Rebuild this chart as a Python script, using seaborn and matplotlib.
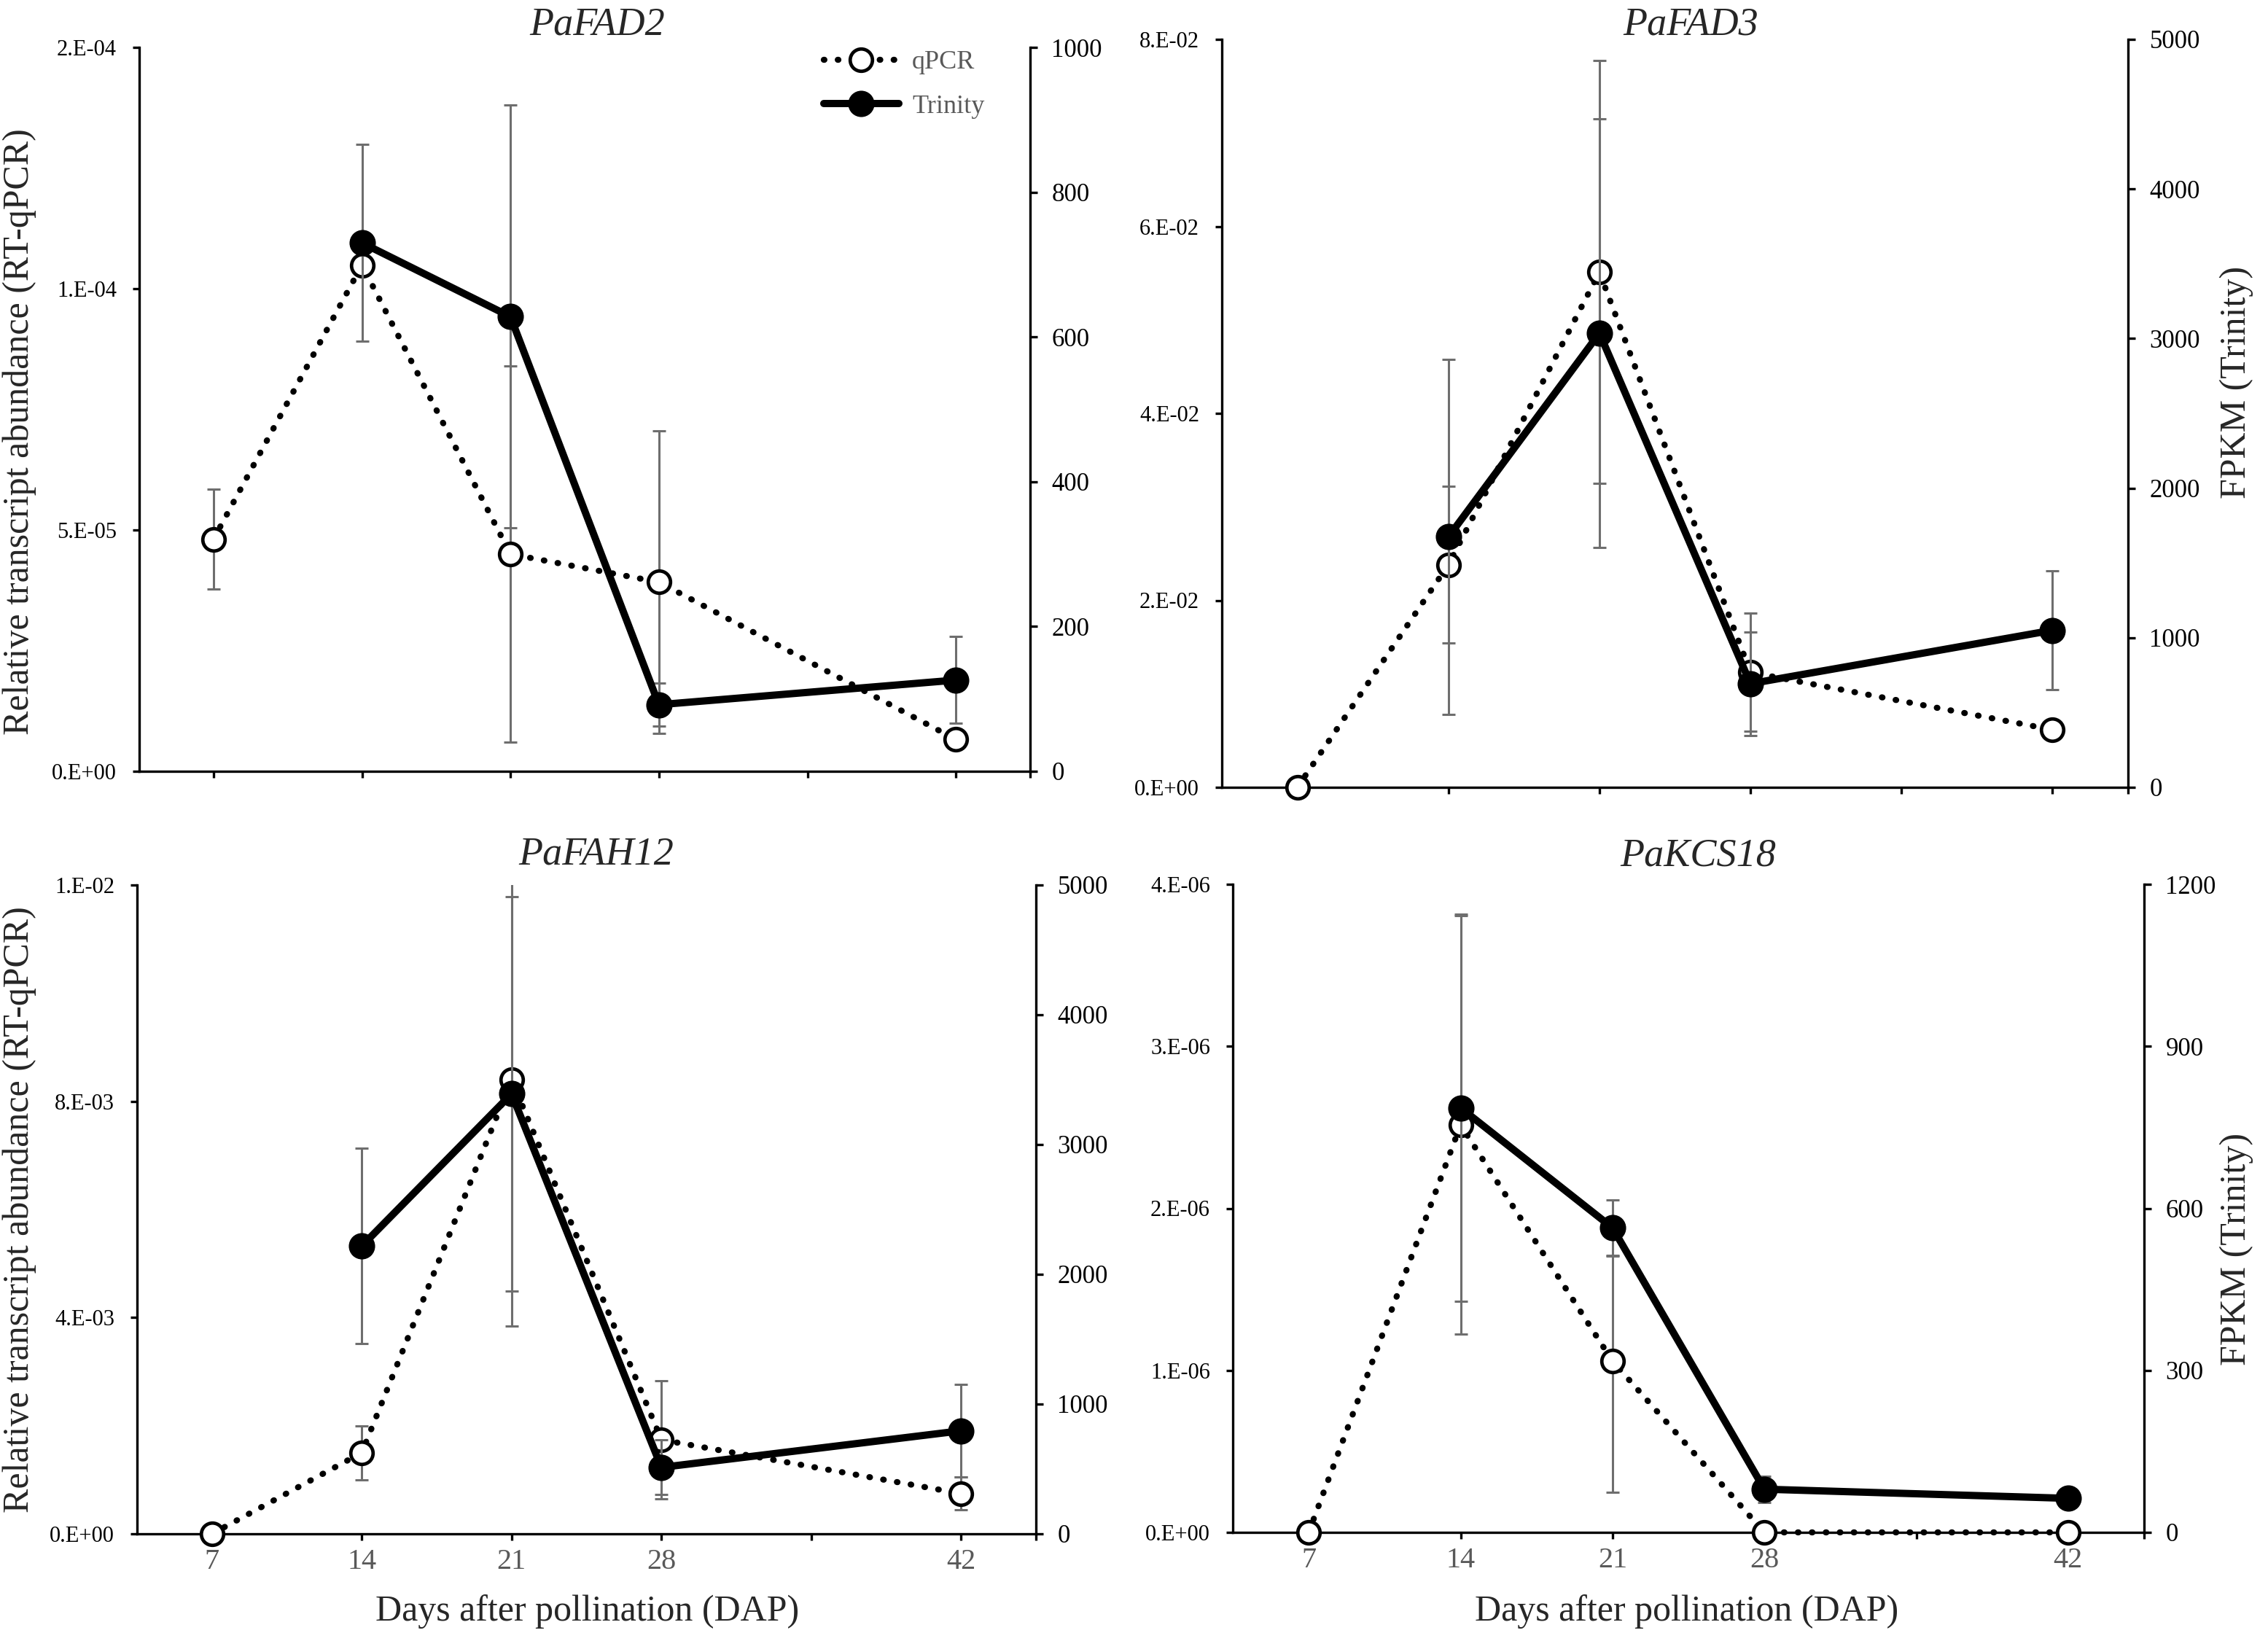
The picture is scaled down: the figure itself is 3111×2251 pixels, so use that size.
import numpy as np
import matplotlib
matplotlib.use('Agg')
from matplotlib import pyplot as plt
from matplotlib.ticker import FuncFormatter
from matplotlib.lines import Line2D
import seaborn as sns

# days after pollination
qpcr_days = [7, 14, 21, 28, 42]
trinity_days = [14, 21, 28, 42]
xtick_pos = [7, 14, 21, 28, 35, 42, 45.5]
xtick_lab = ['7', '14', '21', '28', '', '42', '']

genes = ['PaFAD2', 'PaFAD3', 'PaFAH12', 'PaKCS18']

# RT-qPCR relative abundance (mean, lower err, upper err)
fad2_qpcr = [4.81e-5, 1.049e-4, 4.50e-5, 3.92e-5, 6.6e-6]
fad2_qpcr_lo = [1.03e-5, 0, 3.90e-5, 3.14e-5, 1.95e-6]
fad2_qpcr_hi = [1.03e-5, 0, 3.90e-5, 3.14e-5, 1.95e-6]
fad3_qpcr = [0, 0.0238, 0.0551, 0.0123, 0.00616]
fad3_qpcr_lo = [0, 0.0084, 0.0226, 0.0063, 0]
fad3_qpcr_hi = [0, 0.0084, 0.0226, 0.0063, 0]
fah12_qpcr = [0, 0.0015, 0.0084, 0.00174, 0.000745]
fah12_qpcr_lo = [0, 0.0005, 0.00456, 0.00109, 0.0003]
fah12_qpcr_hi = [0, 0.0005, 0.00456, 0.00109, 0.0003]
kcs18_qpcr = [0, 2.515e-6, 1.057e-6, 0, 0]
kcs18_qpcr_lo = [0, 1.29e-6, 0.81e-6, 0, 0]
kcs18_qpcr_hi = [0, 1.29e-6, 0.65e-6, 0, 0]

# FPKM (Trinity)
fad2_fpkm = [730, 628, 92, 126]
fad2_fpkm_err = [136, 292, 30, 60]
fad3_fpkm = [1674, 3036, 693, 1050]
fad3_fpkm_err = [1187, 1435, 347, 396]
fah12_fpkm = [2218, 3391, 512, 794]
fah12_fpkm_err = [754, 1520, 210, 355]
kcs18_fpkm = [786, 564, 80, 63]
kcs18_fpkm_err = [358, 51, 24, 0]

# axis ticks
fad2_left = [0, 5e-5, 1e-4, 1.5e-4]
fad2_right = [0, 200, 400, 600, 800, 1000]
fad3_left = [0, 0.02, 0.04, 0.06, 0.08]
fad3_right = [0, 1000, 2000, 3000, 4000, 5000]
fah12_left = [0, 0.004, 0.008, 0.012]
fah12_right = [0, 1000, 2000, 3000, 4000, 5000]
kcs18_left = [0, 1e-6, 2e-6, 3e-6, 4e-6]
kcs18_right = [0, 300, 600, 900, 1200]

sns.set_style('ticks')
plt.rcParams['font.family'] = ['Liberation Serif', 'DejaVu Serif']
plt.rcParams['axes.linewidth'] = 1.2

ERR_COLOR = '#6e6e6e'
GRAY_TXT = '#595959'
qpcr_style = dict(color='black', linewidth=3, linestyle=(0, (0.1, 2.2)), dash_capstyle='round',
                  marker='o', markersize=11, markerfacecolor='white', markeredgecolor='black',
                  markeredgewidth=1.7)
trin_style = dict(color='black', linewidth=3.6, linestyle='-', marker='o', markersize=12,
                  markerfacecolor='black', markeredgecolor='black', markeredgewidth=1)


def excel_sci(v, pos=None):
    # mimic Excel's "0.E+00" number format (round half up)
    if v == 0:
        return '0.E+00'
    e = int(np.floor(np.log10(abs(v))))
    m = int(np.floor(abs(v) / 10 ** e + 0.5 + 1e-9))
    if m == 10:
        m, e = 1, e + 1
    return f'{m}.E{e:+03d}'


def draw_panel(ax, title, qv, qlo, qhi, tv, terr, lticks, rticks, bottom):
    ax2 = ax.twinx()
    ax.errorbar(qpcr_days, qv, yerr=[qlo, qhi], fmt='none', ecolor=ERR_COLOR,
                elinewidth=1.1, capsize=3.2, capthick=1.1, zorder=1)
    sns.lineplot(x=qpcr_days, y=qv, ax=ax, legend=False, zorder=3, clip_on=False, **qpcr_style)
    ax2.errorbar(trinity_days, tv, yerr=terr, fmt='none', ecolor=ERR_COLOR,
                 elinewidth=1.1, capsize=3.2, capthick=1.1, zorder=1)
    sns.lineplot(x=trinity_days, y=tv, ax=ax2, legend=False, zorder=3, clip_on=False, **trin_style)

    ax.set_xlim(3.5, 45.5)
    ax.set_ylim(lticks[0], lticks[-1])
    ax2.set_ylim(rticks[0], rticks[-1])
    ax.set_yticks(lticks)
    ax.yaxis.set_major_formatter(FuncFormatter(excel_sci))
    ax2.set_yticks(rticks)
    ax.set_xticks(xtick_pos)
    ax.set_xticklabels(xtick_lab if bottom else [''] * len(xtick_pos))
    ax.set_xlabel('')
    ax.set_ylabel('')
    ax2.set_ylabel('')

    ax.spines['top'].set_visible(False)
    ax.spines['right'].set_visible(False)
    ax2.spines['top'].set_visible(False)
    ax2.spines['left'].set_visible(False)
    ax2.spines['bottom'].set_visible(False)
    for sp in list(ax.spines.values()) + list(ax2.spines.values()):
        sp.set_color('black')
        sp.set_linewidth(1.2)

    ax.tick_params(axis='x', direction='out', length=3.2, width=1.2, color='black',
                   labelsize=14.5, labelcolor=GRAY_TXT, pad=4)
    ax.tick_params(axis='y', direction='out', length=3.2, width=1.2, color='black',
                   labelsize=11, labelcolor='black', pad=8)
    ax2.tick_params(axis='y', direction='out', length=3.6, width=1.2, color='black',
                    labelsize=12.5, labelcolor='black', pad=7)
    ax.patch.set_visible(False)
    return ax2


fig = plt.figure(figsize=(15.555, 11.255), dpi=200)
W, H = 3111, 2251


def box(l, t, r, b):
    return [l / W, (H - b) / H, (r - l) / W, (b - t) / H]


ax_tl = fig.add_axes(box(191, 65, 1413, 1058))
ax_tr = fig.add_axes(box(1676, 54, 2919, 1080))
ax_bl = fig.add_axes(box(188, 1214, 1421, 2104))
ax_br = fig.add_axes(box(1691, 1213, 2941, 2102))

draw_panel(ax_tl, genes[0], fad2_qpcr, fad2_qpcr_lo, fad2_qpcr_hi, fad2_fpkm, fad2_fpkm_err,
           fad2_left, fad2_right, False)
draw_panel(ax_tr, genes[1], fad3_qpcr, fad3_qpcr_lo, fad3_qpcr_hi, fad3_fpkm, fad3_fpkm_err,
           fad3_left, fad3_right, False)
draw_panel(ax_bl, genes[2], fah12_qpcr, fah12_qpcr_lo, fah12_qpcr_hi, fah12_fpkm, fah12_fpkm_err,
           fah12_left, fah12_right, True)
draw_panel(ax_br, genes[3], kcs18_qpcr, kcs18_qpcr_lo, kcs18_qpcr_hi, kcs18_fpkm, kcs18_fpkm_err,
           kcs18_left, kcs18_right, True)

# titles
for name, (x, y) in zip(genes, [(819, 47), (2319, 47), (818, 1185), (2329, 1187)]):
    fig.text(x / W, 1 - y / H, name, ha='center', va='baseline', fontsize=19.5, style='italic')

# axis labels
ylab = 'Relative transcript abundance (RT-qPCR)'
fig.text(27 / W, 1 - 592 / H, ylab, rotation=90, ha='center', va='center', fontsize=18)
fig.text(27 / W, 1 - 1659 / H, ylab, rotation=90, ha='center', va='center', fontsize=18)
fig.text(3068 / W, 1 - 524 / H, 'FPKM (Trinity)', rotation=90, ha='center', va='center', fontsize=18)
fig.text(3068 / W, 1 - 1713 / H, 'FPKM (Trinity)', rotation=90, ha='center', va='center', fontsize=18)
fig.text(806 / W, 1 - 2223 / H, 'Days after pollination (DAP)', ha='center', va='baseline', fontsize=18)
fig.text(2314 / W, 1 - 2223 / H, 'Days after pollination (DAP)', ha='center', va='baseline', fontsize=18)

# legend
handles = [Line2D([], [], **qpcr_style), Line2D([], [], **trin_style)]
leg = fig.legend(handles, ['qPCR', 'Trinity'], loc='center left',
                 bbox_to_anchor=(1130 / W, 1 - 116 / H), frameon=False, fontsize=13,
                 handlelength=2.85, handletextpad=0.5, labelspacing=0.75,
                 borderpad=0, borderaxespad=0, numpoints=1)
for t in leg.get_texts():
    t.set_color(GRAY_TXT)

fig.savefig('out.png', dpi=200)
